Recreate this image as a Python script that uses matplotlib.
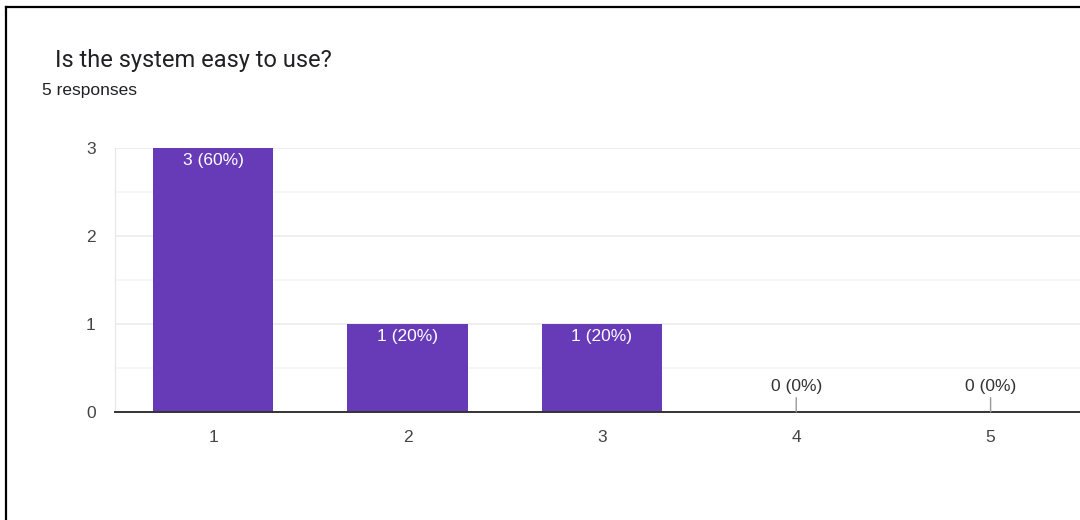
import matplotlib.pyplot as plt
from matplotlib.lines import Line2D

categories = ['1', '2', '3', '4', '5']
counts = [3, 1, 1, 0, 0]
total = 5
title = 'Is the system easy to use?'
subtitle = '5 responses'

purple = '#673AB7'
W, H = 1080, 520

fig = plt.figure(figsize=(W / 100, H / 100), dpi=100)
ax = fig.add_axes([115 / W, (H - 412) / H, 1 - 115 / W, (412 - 148) / H])

x = list(range(1, len(categories) + 1))
ax.bar(x, counts, width=0.62, color=purple, zorder=3)

ax.set_xlim(0.495, 5.46)
ax.set_ylim(0, 3)
ax.set_yticks([0, 1, 2, 3])
ax.set_yticks([0.5, 1.5, 2.5], minor=True)
ax.set_xticks(x)
ax.set_xticklabels(categories)
ax.grid(axis='y', which='major', color='#ebebeb', lw=1.2, zorder=0)
ax.grid(axis='y', which='minor', color='#f5f5f5', lw=1.2, zorder=0)
ax.tick_params(axis='both', which='both', length=0, labelsize=12.5,
               labelcolor='#444444', labelfontfamily='Liberation Sans')
ax.tick_params(axis='x', pad=13)
ax.tick_params(axis='y', pad=14)
for s in ['top', 'right']:
    ax.spines[s].set_visible(False)
ax.spines['left'].set_color('#e6e6e6')
ax.spines['bottom'].set_color('#333333')
ax.spines['bottom'].set_linewidth(1.4)
ax.spines['bottom'].set_zorder(4)

for xi, c in zip(x, counts):
    lab = f'{c} ({round(100 * c / total)}%)'
    if c > 0:
        ax.annotate(lab, (xi, c), xytext=(0, -12), textcoords='offset pixels',
                    ha='center', va='center', color='white', fontsize=12.5,
                    family='Liberation Sans', zorder=5)
    else:
        ax.annotate(lab, (xi, c), xytext=(0, 26), textcoords='offset pixels',
                    ha='center', va='center', color='#333333', fontsize=12.5,
                    family='Liberation Sans', zorder=5,
                    arrowprops=dict(arrowstyle='-', color='#999999', lw=1,
                                    shrinkA=1, shrinkB=0))

fig.text(55 / W, 1 - 60 / H, title, fontsize=17, family='Roboto',
         color='#202124', va='center', ha='left')
fig.text(42 / W, 1 - 91 / H, subtitle, fontsize=12.5, family='Liberation Sans',
         color='#202124', va='center', ha='left')

# screenshot frame, left and top edges
fig.add_artist(Line2D([6 / W, 6 / W], [0, 1 - 7 / H], color='black', lw=1.6,
                      transform=fig.transFigure))
fig.add_artist(Line2D([6 / W, 1], [1 - 7 / H, 1 - 7 / H], color='black', lw=1.6,
                      transform=fig.transFigure))

fig.savefig('out.png', dpi=100)
